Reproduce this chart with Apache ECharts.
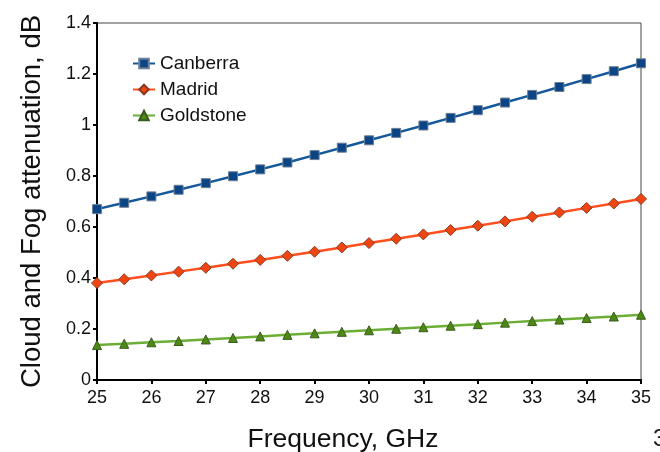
<!DOCTYPE html>
<html>
<head>
<meta charset="utf-8">
<script src="https://cdn.jsdelivr.net/npm/echarts@6/dist/echarts.min.js"></script>
<style>
	html, body { margin: 0; padding: 0; background: #fff; }
	#chart { width: 660px; height: 452px; }
</style>
</head>
<body>
<div id="chart"></div>
<script>
// frequency steps, GHz
const freqs = [25, 25.5, 26, 26.5, 27, 27.5, 28, 28.5, 29, 29.5, 30, 30.5, 31, 31.5, 32, 32.5, 33, 33.5, 34, 34.5, 35];
const canberra = [0.67, 0.695, 0.72, 0.746, 0.772, 0.799, 0.826, 0.853, 0.882, 0.911, 0.94, 0.969, 0.998, 1.028, 1.058, 1.088, 1.118, 1.149, 1.18, 1.211, 1.242];
const madrid = [0.38, 0.395, 0.41, 0.425, 0.44, 0.456, 0.471, 0.487, 0.503, 0.52, 0.537, 0.554, 0.571, 0.588, 0.605, 0.622, 0.64, 0.657, 0.675, 0.692, 0.71];
const goldstone = [0.137, 0.142, 0.148, 0.153, 0.159, 0.165, 0.171, 0.177, 0.183, 0.189, 0.195, 0.201, 0.207, 0.213, 0.219, 0.225, 0.231, 0.237, 0.243, 0.249, 0.256];
const yTicks = [0, 0.2, 0.4, 0.6, 0.8, 1, 1.2, 1.4];

function pairs(vals) {
	return freqs.map((f, i) => [f, vals[i]]);
}

var myChart = echarts.init(document.getElementById('chart'));
var font = 'Liberation Sans, Arial, sans-serif';

var option = {
	animation: false,
	textStyle: { fontFamily: font },
	grid: {
		left: 97,
		right: 19,
		top: 23,
		bottom: 72,
		outerBoundsMode: 'none',
		containLabel: false,
		show: true,
		borderColor: '#444',
		borderWidth: 1,
	},
	legend: {
		orient: 'vertical',
		left: 127,
		top: 49,
		itemGap: 7,
		itemWidth: 22,
		itemHeight: 12,
		textStyle: { fontSize: 19, color: '#111', fontFamily: font },
		data: ['Canberra', 'Madrid', 'Goldstone'],
	},
	xAxis: {
		type: 'value',
		min: 25,
		max: 35,
		interval: 1,
		name: 'Frequency, GHz',
		nameLocation: 'middle',
		nameGap: 46,
		nameTextStyle: { fontSize: 26.5, color: '#111', fontFamily: font, padding: [0, 52, 0, 0] },
		axisLine: { lineStyle: { color: '#000', width: 2 } },
		axisTick: { show: true, length: 4, lineStyle: { color: '#000', width: 2 } },
		axisLabel: { fontSize: 18, color: '#111', margin: 9 },
		splitLine: { show: false },
	},
	yAxis: {
		type: 'value',
		min: yTicks[0],
		max: yTicks[yTicks.length - 1],
		interval: 0.2,
		name: 'Cloud and Fog attenuation, dB',
		nameLocation: 'middle',
		nameGap: 51,
		nameTextStyle: { fontSize: 27.5, color: '#111', fontFamily: font },
		axisLine: { show: true, lineStyle: { color: '#000', width: 2 } },
		axisTick: { show: true, length: 4, lineStyle: { color: '#000', width: 2 } },
		axisLabel: { fontSize: 18, color: '#111', margin: 6 },
		splitLine: { show: false },
	},
	series: [
		{
			name: 'Canberra',
			type: 'line',
			data: pairs(canberra),
			symbol: 'rect',
			symbolSize: 9,
			lineStyle: { color: '#15599b', width: 2.5 },
			itemStyle: { color: '#0b4585', borderColor: '#6b7f96', borderWidth: 1 },
		},
		{
			name: 'Madrid',
			type: 'line',
			data: pairs(madrid),
			symbol: 'diamond',
			symbolSize: 11,
			lineStyle: { color: '#ff4f1f', width: 2.5 },
			itemStyle: { color: '#ee4512', borderColor: '#8a3a20', borderWidth: 1 },
		},
		{
			name: 'Goldstone',
			type: 'line',
			data: pairs(goldstone),
			symbol: 'triangle',
			symbolSize: 9,
			lineStyle: { color: '#6cae35', width: 2.5 },
			itemStyle: { color: '#4d8a14', borderColor: '#3a5a20', borderWidth: 1 },
		},
	],
	graphic: [
		{
			type: 'text',
			left: 653,
			top: 427,
			style: { text: '3', fontSize: 24, fill: '#222', fontFamily: font },
		},
	],
};
option && myChart.setOption(option);
</script>
</body>
</html>
